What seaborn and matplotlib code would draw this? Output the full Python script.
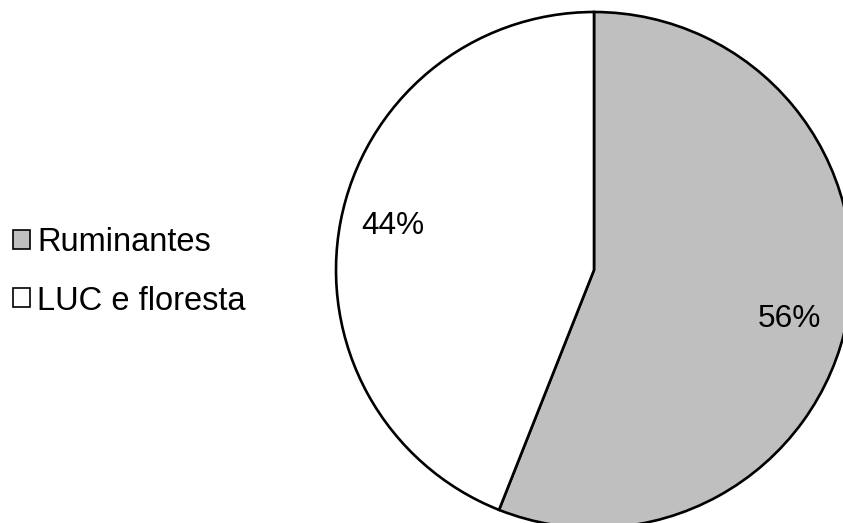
import matplotlib
matplotlib.use("Agg")
import matplotlib.pyplot as plt
from matplotlib.patches import Patch
import seaborn as sns

# Share of emissions by source
categories = ["Ruminantes", "LUC e floresta"]
shares = [56, 44]
colors = ["#BFBFBF", "#FFFFFF"]

sns.set_theme(style="white")
plt.rcParams["font.family"] = ["Liberation Sans", "DejaVu Sans"]

fig = plt.figure(figsize=(8.43, 5.23), dpi=100)
fig.patch.set_facecolor("white")

# Pie axes: large circle sitting on the right, slightly cut by the figure edges
ax = fig.add_axes([336 / 843, -5 / 523, 516 / 843, 516 / 523])
wedges, texts, autotexts = ax.pie(
    shares,
    colors=colors,
    startangle=90,
    counterclock=False,
    autopct="%d%%",
    pctdistance=0.79,
    wedgeprops=dict(edgecolor="black", linewidth=1.9),
    textprops=dict(fontsize=22.8, color="black"),
    radius=1.0,
)
ax.set_xlim(-1, 1)
ax.set_ylim(-1, 1)
ax.set_aspect("equal")
ax.axis("off")
for w in wedges:
    w.set_clip_on(False)

# nudge the percentage labels
autotexts[0].set_position((0.756, -0.19))
autotexts[1].set_position((-0.779, 0.17))

handles = [Patch(facecolor=c, edgecolor="black", linewidth=1.2) for c in colors]
leg = fig.legend(
    handles,
    categories,
    loc="center left",
    bbox_to_anchor=(0.008, 0.48),
    frameon=False,
    fontsize=23.5,
    handlelength=0.52,
    handleheight=0.52,
    handletextpad=0.21,
    labelspacing=0.83,
    borderpad=0.2,
    borderaxespad=0.0,
)
for t in leg.get_texts():
    t.set_color("black")

fig.savefig("out.png", dpi=100, facecolor="white")
